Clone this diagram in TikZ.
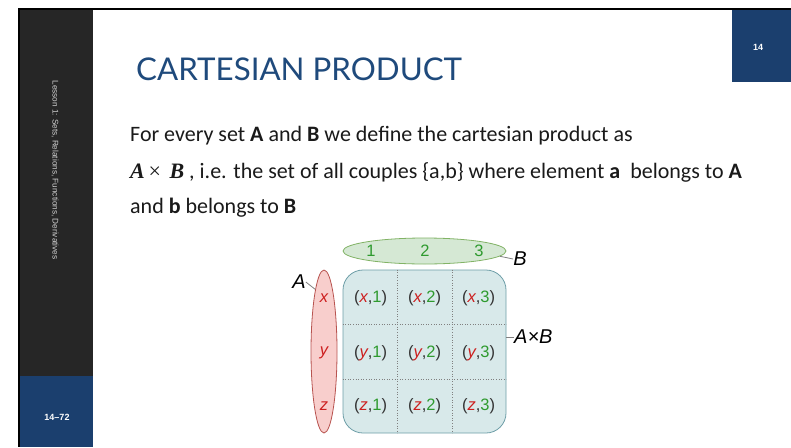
\documentclass[tikz,border=0pt]{standalone}
\usepackage{fontspec}
\setmainfont{Carlito}
\newfontfamily\titlefont{Lato}
\newfontfamily\dfont{Liberation Sans}
\newfontfamily\serfont{Liberation Serif}
\usetikzlibrary{shapes.geometric,calc}
\definecolor{navy}{HTML}{1B3F6E}
\definecolor{side}{HTML}{262626}
\definecolor{sidegray}{HTML}{D0D0D0}
\definecolor{titleblue}{HTML}{1F4A7C}
\definecolor{bodytext}{HTML}{1A1A1A}
\definecolor{gfill}{HTML}{D5E8D4}
\definecolor{gstroke}{HTML}{82B366}
\definecolor{rfill}{HTML}{F8CECC}
\definecolor{rstroke}{HTML}{B85450}
\definecolor{bfill}{HTML}{D8E9EA}
\definecolor{bstroke}{HTML}{6F9FA8}
\definecolor{cred}{HTML}{CC1F1F}
\definecolor{cgreen}{HTML}{2E9A2E}
\definecolor{dgray}{HTML}{333333}
\newcommand\pairtxt[2]{(\textcolor{cred}{\itshape #1},\textcolor{cgreen}{#2})}
\newcommand\bmi[1]{{\serfont\bfseries\itshape #1}}
\tikzset{
  bodyline/.style={anchor=base west, inner sep=0, text=bodytext, font=\fontsize{22}{26}\selectfont},
  cellnode/.style={text=dgray, font=\dfont\fontsize{16.5}{18}\selectfont},
  elemred/.style={text=cred, font=\dfont\itshape\fontsize{16.5}{18}\selectfont},
  elemgreen/.style={text=cgreen, font=\dfont\fontsize{16.5}{18}\selectfont},
  setlabel/.style={text=black, font=\dfont\itshape\fontsize{20}{22}\selectfont, inner sep=0},
  conn/.style={draw=gray, line width=0.8pt},
  griddot/.style={draw=gray, dotted, line width=0.6pt}
}
\begin{document}
\begin{tikzpicture}[x=1pt,y=-1pt]
\useasboundingbox (0,0) rectangle (791,447);
\fill[white] (0,0) rectangle (791,447);
\fill[black] (18,8) rectangle (791,10);
\fill[black] (18,8) rectangle (20,447);
\fill[side] (20,10) rectangle (93,447);
\fill[navy] (20,376) rectangle (93,447);
\fill[navy] (732,10) rectangle (791,82);

\node[rotate=-90, text=sidegray, font=\dfont\fontsize{8.2}{10}\selectfont] (lesson) at (55,170) {Lesson 1: Sets, Relations, Functions, Derivatives};
\node[text=white, font=\dfont\bfseries\fontsize{9}{11}\selectfont] (pages) at (57,417) {14–72};
\node[text=white, font=\dfont\bfseries\fontsize{9}{11}\selectfont] (pnum) at (758,47) {14};

\node[anchor=base west, inner sep=0, text=titleblue, font=\titlefont\fontsize{31.3}{36}\selectfont] (title) at (136,80) {CARTESIAN PRODUCT};

\node[bodyline] (l1) at (130,141) {For every set \textbf{A} and \textbf{B} we define the cartesian product as};
\node[bodyline] (l2) at (130,178) {\bmi{A}{\serfont\,×\,} \bmi{B} , i.e. the set of all couples \{a,b\} where element \textbf{a}\ \ belongs to \textbf{A}};
\node[bodyline] (l3) at (130,213) {and \textbf{b} belongs to \textbf{B}};

% sets
\node[ellipse, draw=gstroke, fill=gfill, line width=0.8pt, minimum width=163, minimum height=26, inner sep=0] (Bset) at (424.5,251) {};
\node[elemgreen] (b1) at (371,251) {1};
\node[elemgreen] (b2) at (425,251) {2};
\node[elemgreen] (b3) at (479,251) {3};

\node[ellipse, draw=rstroke, fill=rfill, line width=0.8pt, minimum width=26, minimum height=163, inner sep=0] (Aset) at (324,351.5) {};
\node[elemred] (ax) at (324,298) {x};
\node[elemred] (ay) at (324,353) {y};
\node[elemred] (az) at (324,406) {z};

\node[draw=bstroke, fill=bfill, line width=0.8pt, rounded corners=20, minimum width=163, minimum height=163, inner sep=0] (AB) at (424.5,351.5) {};
\draw[griddot] ($(AB.north west)!1/3!(AB.north east)$) -- ($(AB.south west)!1/3!(AB.south east)$);
\draw[griddot] ($(AB.north west)!2/3!(AB.north east)$) -- ($(AB.south west)!2/3!(AB.south east)$);
\draw[griddot] ($(AB.north west)!1/3!(AB.south west)$) -- ($(AB.north east)!1/3!(AB.south east)$);
\draw[griddot] ($(AB.north west)!2/3!(AB.south west)$) -- ($(AB.north east)!2/3!(AB.south east)$);

\node[cellnode] (c11) at (370.5,298) {\pairtxt{x}{1}};
\node[cellnode] (c12) at (424.5,298) {\pairtxt{x}{2}};
\node[cellnode] (c13) at (478.5,298) {\pairtxt{x}{3}};
\node[cellnode] (c21) at (370.5,353) {\pairtxt{y}{1}};
\node[cellnode] (c22) at (424.5,353) {\pairtxt{y}{2}};
\node[cellnode] (c23) at (478.5,353) {\pairtxt{y}{3}};
\node[cellnode] (c31) at (370.5,406) {\pairtxt{z}{1}};
\node[cellnode] (c32) at (424.5,406) {\pairtxt{z}{2}};
\node[cellnode] (c33) at (478.5,406) {\pairtxt{z}{3}};

\node[setlabel] (Alab) at (299,282) {A};
\node[setlabel] (Blab) at (520,259) {B};
\node[setlabel, anchor=west] (ABlab) at (514,337) {A×B};

\draw[conn] (Alab.east) -- (Aset.98);
\draw[conn] (Bset.-4) -- (Blab.west);
\draw[conn] (ABlab.west) -- (ABlab.west -| AB.east);
\end{tikzpicture}
\end{document}
